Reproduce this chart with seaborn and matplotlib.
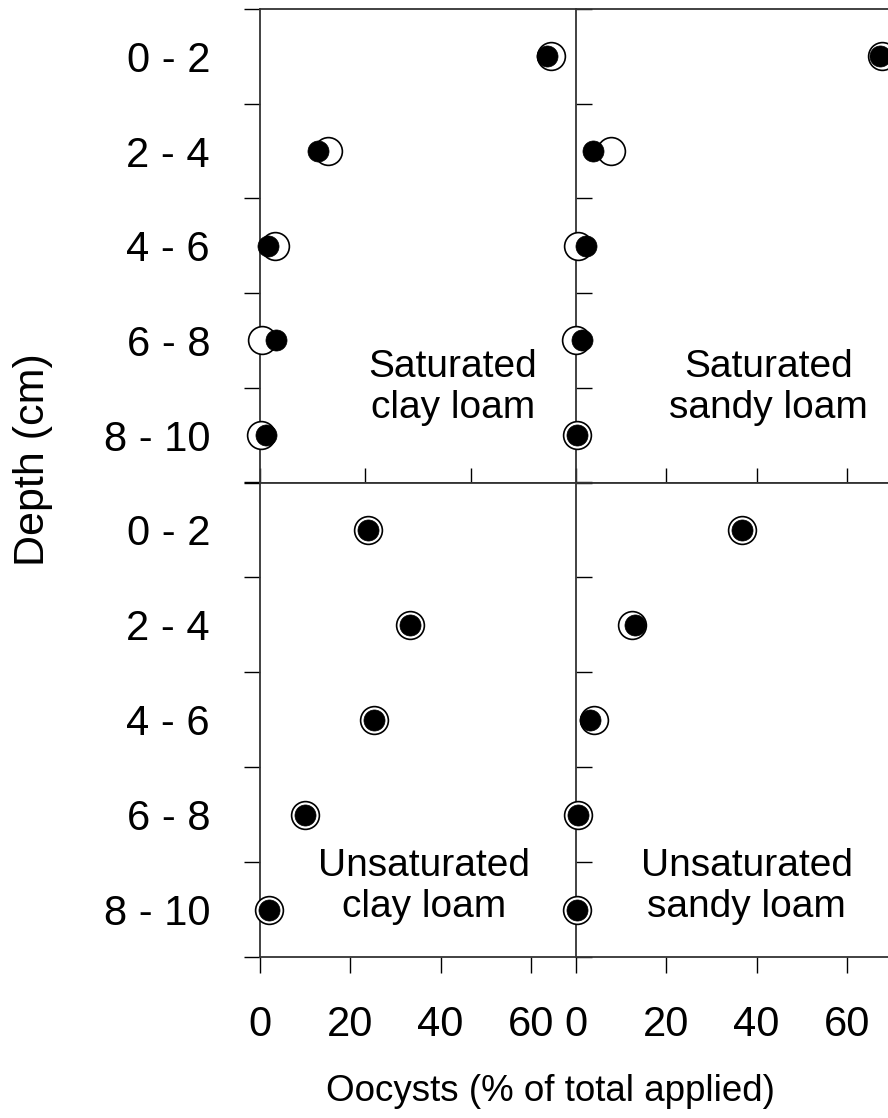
import numpy as np
import pandas as pd
import matplotlib
matplotlib.use("Agg")
import matplotlib.pyplot as plt
import seaborn as sns

# data (% of total applied)
depths = ["0 - 2", "2 - 4", "4 - 6", "6 - 8", "8 - 10"]

sat_clay_open = [55.2, 13.0, 2.9, 0.4, 0.2]
sat_clay_filled = [54.5, 11.1, 1.5, 3.0, 1.1]
sat_sandy_open = [67.8, 7.7, 0.4, 0.0, 0.2]
sat_sandy_filled = [67.4, 3.8, 2.2, 1.3, 0.2]
unsat_clay_open = [24.0, 33.3, 25.3, 10.0, 2.0]
unsat_clay_filled = [24.0, 33.3, 25.3, 10.0, 2.0]
unsat_sandy_open = [36.8, 12.4, 4.0, 0.4, 0.2]
unsat_sandy_filled = [36.8, 13.1, 3.1, 0.4, 0.2]

panel_names = ["Saturated\nclay loam", "Saturated\nsandy loam",
               "Unsaturated\nclay loam", "Unsaturated\nsandy loam"]

sns.set_style("white")
plt.rcParams['font.family'] = ['Liberation Sans', 'DejaVu Sans']
for k in ['text.color', 'axes.labelcolor', 'xtick.color', 'ytick.color']:
    plt.rcParams[k] = 'black'

W, H = 888, 1118
fig = plt.figure(figsize=(W / 100, H / 100), dpi=100)

xl, xm, xr = 260 / W, 576 / W, 892 / W
yt, ymid, yb = 1 - 9 / H, 1 - 482.5 / H, 1 - 957 / H

panels = [
    # rect, open, filled, xmax, text pos (last baseline), top row?, left col?
    ([xl, ymid, xm - xl, yt - ymid], sat_clay_open, sat_clay_filled, 60, (36.6, 3.82), True, True),
    ([xm, ymid, xr - xm, yt - ymid], sat_sandy_open, sat_sandy_filled, 70, (42.6, 3.82), True, False),
    ([xl, yb, xm - xl, ymid - yb], unsat_clay_open, unsat_clay_filled, 70, (36.4, 4.08), False, True),
    ([xm, yb, xr - xm, ymid - yb], unsat_sandy_open, unsat_sandy_filled, 70, (37.8, 4.08), False, False),
]

ypos = np.arange(len(depths))
fs = 30

for (rect, op, fi, xmax, tpos, top, left), name in zip(panels, panel_names):
    ax = fig.add_axes(rect)
    df = pd.DataFrame({"y": ypos, "open": op, "filled": fi})
    sns.scatterplot(data=df, x="open", y="y", ax=ax, s=400, color="white",
                    edgecolor="black", linewidth=1.2, clip_on=False, zorder=3)
    sns.scatterplot(data=df, x="filled", y="y", ax=ax, s=230, color="black",
                    edgecolor="black", linewidth=0.5, clip_on=False, zorder=4)
    ax.set_xlim(0, xmax)
    ax.set_ylim(4.5, -0.5)
    ax.set_xlabel("")
    ax.set_ylabel("")

    ax.text(tpos[0], tpos[1], name, ha="center", va="baseline", fontsize=28)

    for s in ["left", "top", "bottom"]:
        ax.spines[s].set_visible(True)
        ax.spines[s].set_color("#333333")
        ax.spines[s].set_linewidth(1.3)
    ax.spines["right"].set_visible(False)

    # y: labels at centres, ticks at boundaries
    ax.set_yticks(ypos)
    ax.set_yticks(np.arange(-0.5, 5, 1), minor=True)
    if left:
        ax.set_yticklabels(depths)
        ax.tick_params(axis="y", which="major", length=0, pad=36, labelsize=fs)
        ax.tick_params(axis="y", which="minor", direction="out", length=11.5, width=1,
                       left=True)
    else:
        ax.set_yticklabels([])
        ax.tick_params(axis="y", which="major", length=0)
        ax.tick_params(axis="y", which="minor", direction="in", length=11.5, width=1,
                       left=True)

    ax.set_xticks([0, 20, 40, 60])
    if top:
        ax.set_xticklabels([])
        ax.tick_params(axis="x", direction="in", length=11, width=1, bottom=True)
    else:
        ax.tick_params(axis="x", direction="out", length=11.5, width=1, bottom=True,
                       pad=23, labelsize=fs)

fig.text(33 / W, 1 - 460 / H, "Depth (cm)", rotation=90, ha="center", va="center",
         fontsize=31)
fig.text(550 / W, 1 - 1074 / H, "Oocysts (% of total applied)", ha="center",
         va="top", fontsize=26.5)

fig.savefig("out.png", dpi=100)
